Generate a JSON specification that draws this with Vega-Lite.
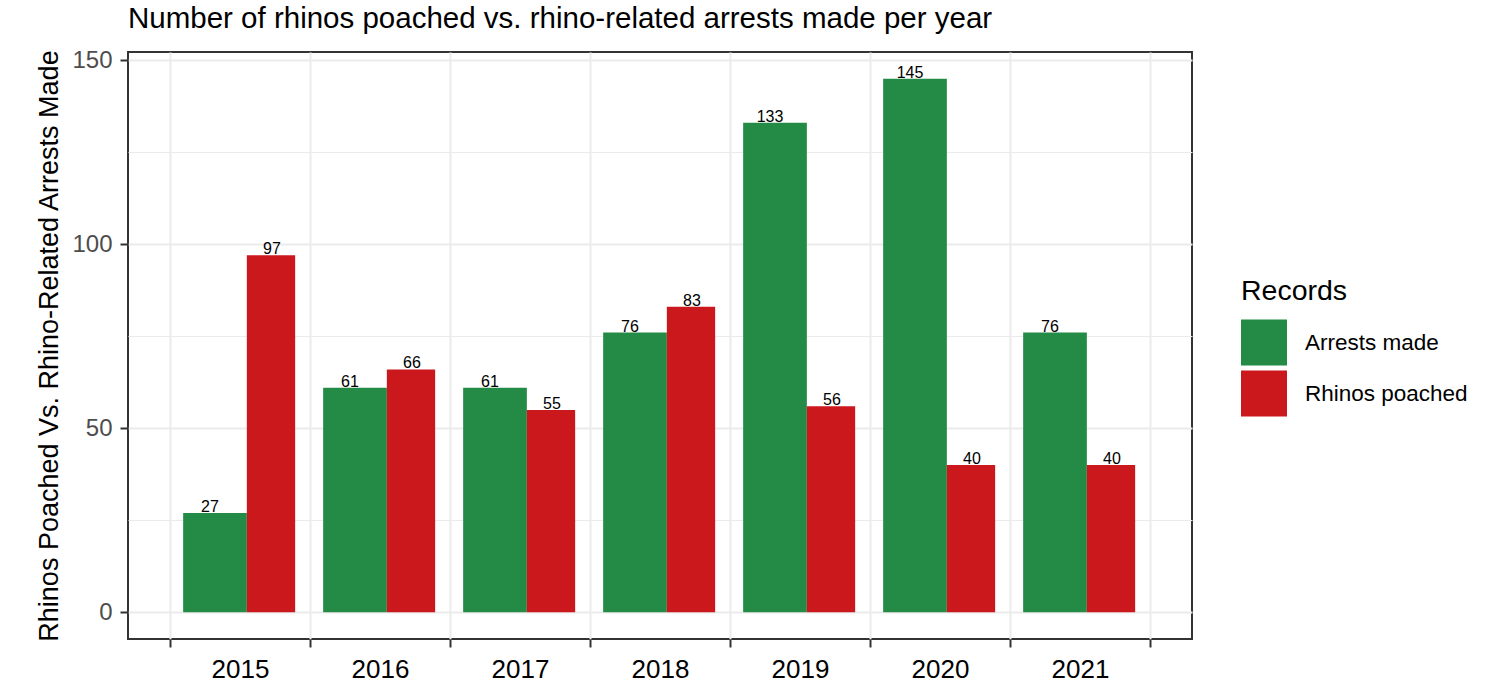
{
  "$schema": "https://vega.github.io/schema/vega-lite/v6.json",
  "width": 1064,
  "height": 587,
  "autosize": "none",
  "padding": {"left": 128, "top": 52, "right": 297, "bottom": 44},
  "background": "white",
  "title": {
    "text": "Number of rhinos poached vs. rhino-related arrests made per year",
    "anchor": "start",
    "frame": "group",
    "fontSize": 29.5,
    "font": "Liberation Sans",
    "fontWeight": "normal",
    "color": "black",
    "baseline": "alphabetic",
    "offset": -9
  },
  "config": {
    "view": {"stroke": "#333333", "strokeWidth": 2},
    "font": "Liberation Sans"
  },
  "data": {
    "values": [
      {"Year": "2015", "Records": "Arrests made", "Count": 27},
      {"Year": "2015", "Records": "Rhinos poached", "Count": 97},
      {"Year": "2016", "Records": "Arrests made", "Count": 61},
      {"Year": "2016", "Records": "Rhinos poached", "Count": 66},
      {"Year": "2017", "Records": "Arrests made", "Count": 61},
      {"Year": "2017", "Records": "Rhinos poached", "Count": 55},
      {"Year": "2018", "Records": "Arrests made", "Count": 76},
      {"Year": "2018", "Records": "Rhinos poached", "Count": 83},
      {"Year": "2019", "Records": "Arrests made", "Count": 133},
      {"Year": "2019", "Records": "Rhinos poached", "Count": 56},
      {"Year": "2020", "Records": "Arrests made", "Count": 145},
      {"Year": "2020", "Records": "Rhinos poached", "Count": 40},
      {"Year": "2021", "Records": "Arrests made", "Count": 76},
      {"Year": "2021", "Records": "Rhinos poached", "Count": 40}
    ]
  },
  "encoding": {
    "x": {
      "field": "Year",
      "type": "ordinal",
      "scale": {"paddingInner": 0, "paddingOuter": 0.3},
      "axis": {
        "title": null,
        "labelAngle": 0,
        "tickBand": "extent",
        "grid": true,
        "gridColor": "#ebebeb",
        "gridWidth": 2,
        "domain": false,
        "labelFontSize": 26,
        "labelColor": "black",
        "labelPadding": 9,
        "tickSize": 8,
        "tickColor": "#333333",
        "tickWidth": 2
      }
    },
    "y": {
      "field": "Count",
      "type": "quantitative",
      "scale": {"domain": [-7.25, 152.25], "nice": false},
      "axis": {
        "title": "Rhinos Poached Vs. Rhino-Related Arrests Made",
        "titleFontSize": 27,
        "titleFontWeight": "normal",
        "titleColor": "black",
        "titlePadding": 8,
        "values": [0, 25, 50, 75, 100, 125, 150],
        "labelExpr": "datum.value % 50 === 0 ? datum.label : ''",
        "labelFontSize": 24,
        "labelColor": "#4d4d4d",
        "labelPadding": 8,
        "tickSize": 8,
        "tickColor": "#333333",
        "tickWidth": 2,
        "tickOpacity": {"condition": {"test": "datum.value % 50 === 0", "value": 1}, "value": 0},
        "grid": true,
        "gridColor": "#ebebeb",
        "gridWidth": {"condition": {"test": "datum.value % 50 === 0", "value": 2}, "value": 1},
        "domain": false
      }
    }
  },
  "layer": [
    {
      "transform": [{"filter": "datum.Records === 'Arrests made'"}],
      "mark": {"type": "bar", "width": {"band": 0.455}, "xOffset": -25},
      "encoding": {
        "y2": {"datum": 0},
        "color": {
          "field": "Records",
          "type": "nominal",
          "scale": {"domain": ["Arrests made", "Rhinos poached"], "range": ["#238b45", "#cb181d"]},
          "legend": {
            "orient": "none",
            "legendX": 1113,
            "legendY": 225,
            "title": "Records",
            "titleFontSize": 28.5,
            "titleFontWeight": "normal",
            "titleColor": "black",
            "titlePadding": 14,
            "labelFontSize": 22.5,
            "labelColor": "black",
            "labelOffset": 18,
            "labelLimit": 300,
            "symbolType": "square",
            "symbolSize": 2116,
            "symbolStrokeWidth": 0,
            "symbolOpacity": 1,
            "rowPadding": 5,
            "padding": 0
          }
        }
      }
    },
    {
      "transform": [{"filter": "datum.Records === 'Rhinos poached'"}],
      "mark": {"type": "bar", "width": {"band": 0.345}, "xOffset": 31},
      "encoding": {
        "y2": {"datum": 0},
        "color": {"field": "Records", "type": "nominal"}
      }
    },
    {
      "transform": [{"filter": "datum.Records === 'Arrests made'"}],
      "mark": {"type": "text", "xOffset": -30, "dy": -1, "baseline": "alphabetic", "fontSize": 16, "color": "black"},
      "encoding": {"text": {"field": "Count", "type": "quantitative"}}
    },
    {
      "transform": [{"filter": "datum.Records === 'Rhinos poached'"}],
      "mark": {"type": "text", "xOffset": 32, "dy": -1, "baseline": "alphabetic", "fontSize": 16, "color": "black"},
      "encoding": {"text": {"field": "Count", "type": "quantitative"}}
    }
  ]
}
